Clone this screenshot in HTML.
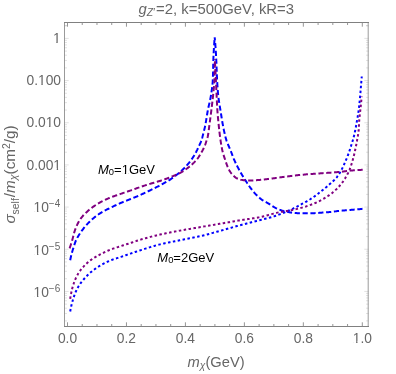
<!DOCTYPE html>
<html><head><meta charset="utf-8"><title>plot</title>
<style>
html,body{margin:0;padding:0;background:#fff;}
body{width:396px;height:374px;overflow:hidden;}
svg{display:block;will-change:transform;font-family:"Liberation Sans",sans-serif;}
</style></head><body>
<svg width="396" height="374" viewBox="0 0 396 374">
<rect width="396" height="374" fill="#ffffff"/>
<path d="M64.5,22.0 V327.0 M368.2,22.0 V327.0" fill="none" stroke="#9a9a9a" stroke-width="1"/>
<path d="M64.0,22.5 H369.0 M64.0,326.5 H369.0" fill="none" stroke="#808080" stroke-width="1"/>
<path d="M64.5,38.40 h4.2 M368.5,38.40 h-4.2 M64.5,25.71 h2.5 M368.5,25.71 h-2.5 M64.5,80.57 h4.2 M368.5,80.57 h-4.2 M64.5,67.88 h2.5 M368.5,67.88 h-2.5 M64.5,60.45 h2.5 M368.5,60.45 h-2.5 M64.5,55.18 h2.5 M368.5,55.18 h-2.5 M64.5,51.09 h2.5 M368.5,51.09 h-2.5 M64.5,47.76 h2.5 M368.5,47.76 h-2.5 M64.5,44.93 h2.5 M368.5,44.93 h-2.5 M64.5,42.49 h2.5 M368.5,42.49 h-2.5 M64.5,40.33 h2.5 M368.5,40.33 h-2.5 M64.5,122.74 h4.2 M368.5,122.74 h-4.2 M64.5,110.05 h2.5 M368.5,110.05 h-2.5 M64.5,102.62 h2.5 M368.5,102.62 h-2.5 M64.5,97.35 h2.5 M368.5,97.35 h-2.5 M64.5,93.26 h2.5 M368.5,93.26 h-2.5 M64.5,89.93 h2.5 M368.5,89.93 h-2.5 M64.5,87.10 h2.5 M368.5,87.10 h-2.5 M64.5,84.66 h2.5 M368.5,84.66 h-2.5 M64.5,82.50 h2.5 M368.5,82.50 h-2.5 M64.5,164.91 h4.2 M368.5,164.91 h-4.2 M64.5,152.22 h2.5 M368.5,152.22 h-2.5 M64.5,144.79 h2.5 M368.5,144.79 h-2.5 M64.5,139.52 h2.5 M368.5,139.52 h-2.5 M64.5,135.43 h2.5 M368.5,135.43 h-2.5 M64.5,132.10 h2.5 M368.5,132.10 h-2.5 M64.5,129.27 h2.5 M368.5,129.27 h-2.5 M64.5,126.83 h2.5 M368.5,126.83 h-2.5 M64.5,124.67 h2.5 M368.5,124.67 h-2.5 M64.5,207.08 h4.2 M368.5,207.08 h-4.2 M64.5,194.39 h2.5 M368.5,194.39 h-2.5 M64.5,186.96 h2.5 M368.5,186.96 h-2.5 M64.5,181.69 h2.5 M368.5,181.69 h-2.5 M64.5,177.60 h2.5 M368.5,177.60 h-2.5 M64.5,174.27 h2.5 M368.5,174.27 h-2.5 M64.5,171.44 h2.5 M368.5,171.44 h-2.5 M64.5,169.00 h2.5 M368.5,169.00 h-2.5 M64.5,166.84 h2.5 M368.5,166.84 h-2.5 M64.5,249.25 h4.2 M368.5,249.25 h-4.2 M64.5,236.56 h2.5 M368.5,236.56 h-2.5 M64.5,229.13 h2.5 M368.5,229.13 h-2.5 M64.5,223.86 h2.5 M368.5,223.86 h-2.5 M64.5,219.77 h2.5 M368.5,219.77 h-2.5 M64.5,216.44 h2.5 M368.5,216.44 h-2.5 M64.5,213.61 h2.5 M368.5,213.61 h-2.5 M64.5,211.17 h2.5 M368.5,211.17 h-2.5 M64.5,209.01 h2.5 M368.5,209.01 h-2.5 M64.5,291.42 h4.2 M368.5,291.42 h-4.2 M64.5,278.73 h2.5 M368.5,278.73 h-2.5 M64.5,271.30 h2.5 M368.5,271.30 h-2.5 M64.5,266.03 h2.5 M368.5,266.03 h-2.5 M64.5,261.94 h2.5 M368.5,261.94 h-2.5 M64.5,258.61 h2.5 M368.5,258.61 h-2.5 M64.5,255.78 h2.5 M368.5,255.78 h-2.5 M64.5,253.34 h2.5 M368.5,253.34 h-2.5 M64.5,251.18 h2.5 M368.5,251.18 h-2.5 M64.5,320.90 h2.5 M368.5,320.90 h-2.5 M64.5,313.47 h2.5 M368.5,313.47 h-2.5 M64.5,308.20 h2.5 M368.5,308.20 h-2.5 M64.5,304.11 h2.5 M368.5,304.11 h-2.5 M64.5,300.78 h2.5 M368.5,300.78 h-2.5 M64.5,297.95 h2.5 M368.5,297.95 h-2.5 M64.5,295.51 h2.5 M368.5,295.51 h-2.5 M64.5,293.35 h2.5 M368.5,293.35 h-2.5 M64.5,25.71 h2.5 M368.5,25.71 h-2.5" stroke="#8a8a8a" stroke-width="0.25" fill="none"/>
<path d="M67.50,326.5 v-4.2 M67.50,22.5 v4.2 M82.24,326.5 v-2.5 M82.24,22.5 v2.5 M96.98,326.5 v-2.5 M96.98,22.5 v2.5 M111.72,326.5 v-2.5 M111.72,22.5 v2.5 M126.46,326.5 v-4.2 M126.46,22.5 v4.2 M141.20,326.5 v-2.5 M141.20,22.5 v2.5 M155.94,326.5 v-2.5 M155.94,22.5 v2.5 M170.68,326.5 v-2.5 M170.68,22.5 v2.5 M185.42,326.5 v-4.2 M185.42,22.5 v4.2 M200.16,326.5 v-2.5 M200.16,22.5 v2.5 M214.90,326.5 v-2.5 M214.90,22.5 v2.5 M229.64,326.5 v-2.5 M229.64,22.5 v2.5 M244.38,326.5 v-4.2 M244.38,22.5 v4.2 M259.12,326.5 v-2.5 M259.12,22.5 v2.5 M273.86,326.5 v-2.5 M273.86,22.5 v2.5 M288.60,326.5 v-2.5 M288.60,22.5 v2.5 M303.34,326.5 v-4.2 M303.34,22.5 v4.2 M318.08,326.5 v-2.5 M318.08,22.5 v2.5 M332.82,326.5 v-2.5 M332.82,22.5 v2.5 M347.56,326.5 v-2.5 M347.56,22.5 v2.5 M362.30,326.5 v-4.2 M362.30,22.5 v4.2" stroke="#8a8a8a" stroke-width="0.9" fill="none"/>
<g fill="none" stroke-width="2.0" stroke-linejoin="round">
<path d="M70.20,260.30 L70.39,259.31 L70.59,258.31 L70.80,257.33 L71.03,256.34 L71.26,255.36 L71.51,254.39 L71.76,253.41 L72.03,252.44 L72.30,251.48 L72.58,250.51 L72.86,249.55 L73.16,248.59 L73.45,247.63 L73.76,246.67 L74.07,245.72 L74.38,244.77 L74.69,243.82 L75.03,242.87 L75.38,241.93 L75.76,240.99 L76.17,240.08 L76.59,239.17 L77.05,238.28 L77.52,237.39 L78.02,236.51 L78.54,235.64 L79.07,234.78 L79.61,233.93 L80.16,233.10 L80.73,232.28 L81.30,231.46 L81.89,230.65 L82.49,229.84 L83.11,229.03 L83.73,228.23 L84.37,227.44 L85.01,226.66 L85.67,225.89 L86.34,225.12 L87.01,224.37 L87.70,223.63 L88.39,222.90 L89.09,222.18 L89.79,221.48 L90.51,220.79 L91.23,220.12 L91.97,219.45 L92.73,218.79 L93.50,218.14 L94.29,217.50 L95.08,216.87 L95.89,216.26 L96.70,215.65 L97.52,215.06 L98.35,214.48 L99.19,213.92 L100.02,213.37 L100.86,212.84 L101.71,212.32 L102.58,211.81 L103.45,211.32 L104.34,210.84 L105.23,210.38 L106.13,209.92 L107.03,209.46 L107.93,209.01 L108.84,208.57 L109.74,208.12 L110.64,207.68 L111.54,207.23 L112.45,206.79 L113.35,206.35 L114.26,205.92 L115.17,205.49 L116.08,205.06 L116.99,204.64 L117.91,204.22 L118.82,203.81 L119.74,203.40 L120.66,203.00 L121.58,202.61 L122.51,202.22 L123.44,201.84 L124.37,201.46 L125.31,201.09 L126.24,200.73 L127.18,200.36 L128.12,199.99 L129.05,199.62 L129.98,199.25 L130.92,198.87 L131.85,198.50 L132.78,198.12 L133.71,197.74 L134.64,197.36 L135.57,196.98 L136.50,196.59 L137.43,196.21 L138.35,195.81 L139.27,195.42 L140.19,195.01 L141.11,194.60 L142.03,194.19 L142.94,193.77 L143.85,193.35 L144.76,192.92 L145.67,192.49 L146.58,192.06 L147.48,191.62 L148.39,191.18 L149.29,190.74 L150.19,190.30 L151.10,189.86 L152.00,189.42 L152.90,188.98 L153.81,188.53 L154.71,188.09 L155.61,187.64 L156.50,187.18 L157.40,186.73 L158.29,186.26 L159.18,185.80 L160.07,185.33 L160.95,184.85 L161.83,184.37 L162.72,183.89 L163.60,183.40 L164.48,182.92 L165.36,182.42 L166.24,181.92 L167.10,181.41 L167.97,180.90 L168.82,180.37 L169.67,179.84 L170.51,179.29 L171.34,178.74 L172.17,178.17 L172.99,177.60 L173.81,177.01 L174.63,176.41 L175.43,175.81 L176.24,175.20 L177.03,174.58 L177.82,173.95 L178.60,173.31 L179.37,172.66 L180.13,172.01 L180.88,171.35 L181.62,170.68 L182.35,169.99 L183.08,169.29 L183.79,168.58 L184.50,167.86 L185.19,167.13 L185.88,166.40 L186.56,165.66 L187.23,164.91 L187.89,164.15 L188.54,163.38 L189.18,162.61 L189.80,161.82 L190.41,161.02 L191.01,160.21 L191.59,159.40 L192.17,158.57 L192.73,157.74 L193.28,156.89 L193.82,156.04 L194.34,155.18 L194.85,154.32 L195.34,153.44 L195.81,152.56 L196.28,151.67 L196.73,150.77 L197.18,149.87 L197.61,148.96 L198.04,148.05 L198.47,147.14 L198.89,146.23 L199.31,145.31 L199.74,144.40 L200.16,143.48 L200.58,142.56 L200.98,141.64 L201.35,140.70 L201.69,139.76 L201.98,138.81 L202.24,137.84 L202.47,136.86 L202.70,135.88 L202.95,134.91 L203.20,133.93 L203.45,132.96 L203.71,131.98 L203.96,131.01 L204.20,130.04 L204.44,129.06 L204.68,128.08 L204.90,127.10 L205.11,126.12 L205.31,125.14 L205.50,124.15 L205.68,123.17 L205.86,122.18 L206.03,121.19 L206.19,120.20 L206.35,119.20 L206.51,118.21 L206.67,117.22 L206.83,116.22 L206.99,115.23 L207.15,114.24 L207.31,113.25 L207.48,112.26 L207.66,111.27 L207.84,110.28 L208.04,109.29 L208.24,108.31 L208.45,107.32 L208.67,106.34 L208.89,105.36 L209.12,104.38 L209.35,103.40 L209.57,102.42 L209.79,101.44 L210.01,100.45 L210.22,99.47 L210.42,98.49 L210.61,97.50 L210.79,96.52 L210.95,95.53 L211.10,94.54 L211.25,93.54 L211.40,92.55 L211.55,91.55 L211.69,90.56 L211.84,89.56 L211.97,88.56 L212.10,87.56 L212.23,86.57 L212.34,85.57 L212.45,84.56 L212.55,83.56 L212.64,82.56 L212.71,81.56 L212.77,80.56 L212.82,79.56 L212.86,78.56 L212.90,77.56 L212.94,76.55 L212.97,75.55 L213.00,74.55 L213.03,73.54 L213.05,72.54 L213.08,71.53 L213.10,70.53 L213.12,69.52 L213.14,68.52 L213.16,67.51 L213.18,66.50 L213.20,65.50 L213.23,64.49 L213.25,63.49 L213.27,62.48 L213.30,61.48 L213.33,60.47 L213.37,59.47 L213.40,58.46 L213.44,57.46 L213.48,56.45 L213.53,55.45 L213.58,54.45 L213.63,53.44 L213.68,52.44 L213.74,51.44 L213.80,50.43 L213.85,49.43 L213.91,48.43 L213.97,47.42 L214.04,46.42 L214.10,45.42 L214.17,44.41 L214.24,43.41 L214.31,42.41 L214.38,41.41 L214.46,40.41 L214.54,39.40 L214.62,38.40 L214.70,37.40" stroke="#0000ff" stroke-dasharray="5.2 2.65"/>
<path d="M214.70,37.40 L214.79,38.40 L214.88,39.40 L214.97,40.41 L215.06,41.41 L215.15,42.41 L215.23,43.41 L215.31,44.41 L215.38,45.42 L215.46,46.42 L215.53,47.42 L215.60,48.43 L215.67,49.43 L215.73,50.43 L215.80,51.44 L215.86,52.44 L215.92,53.45 L215.98,54.45 L216.04,55.45 L216.09,56.46 L216.15,57.46 L216.20,58.47 L216.25,59.47 L216.29,60.48 L216.34,61.48 L216.38,62.49 L216.42,63.49 L216.46,64.50 L216.50,65.50 L216.54,66.51 L216.58,67.51 L216.61,68.52 L216.65,69.52 L216.69,70.53 L216.73,71.53 L216.76,72.54 L216.80,73.54 L216.84,74.55 L216.89,75.55 L216.93,76.56 L216.98,77.56 L217.03,78.57 L217.08,79.57 L217.13,80.57 L217.19,81.58 L217.24,82.58 L217.30,83.59 L217.37,84.59 L217.43,85.60 L217.50,86.60 L217.57,87.60 L217.64,88.61 L217.71,89.61 L217.79,90.61 L217.88,91.62 L217.96,92.62 L218.05,93.62 L218.14,94.62 L218.24,95.62 L218.35,96.62 L218.47,97.61 L218.60,98.61 L218.74,99.61 L218.88,100.60 L219.04,101.60 L219.19,102.59 L219.36,103.58 L219.52,104.58 L219.69,105.57 L219.85,106.56 L220.02,107.56 L220.19,108.55 L220.35,109.54 L220.51,110.54 L220.66,111.53 L220.82,112.52 L220.97,113.52 L221.12,114.51 L221.28,115.51 L221.44,116.50 L221.59,117.49 L221.75,118.49 L221.91,119.48 L222.08,120.47 L222.24,121.46 L222.41,122.46 L222.59,123.45 L222.77,124.43 L222.95,125.42 L223.14,126.41 L223.33,127.40 L223.52,128.38 L223.72,129.37 L223.93,130.36 L224.14,131.34 L224.36,132.32 L224.58,133.30 L224.81,134.28 L225.04,135.26 L225.28,136.24 L225.53,137.21 L225.80,138.18 L226.07,139.15 L226.37,140.11 L226.69,141.06 L227.03,142.00 L227.40,142.94 L227.77,143.87 L228.16,144.80 L228.56,145.73 L228.96,146.65 L229.36,147.58 L229.76,148.50 L230.15,149.43 L230.53,150.36 L230.89,151.30 L231.25,152.24 L231.61,153.18 L231.97,154.12 L232.32,155.07 L232.68,156.01 L233.04,156.95 L233.41,157.88 L233.78,158.82 L234.17,159.74 L234.57,160.66 L234.98,161.57 L235.41,162.49 L235.84,163.39 L236.29,164.30 L236.74,165.20 L237.19,166.09 L237.66,166.99 L238.13,167.88 L238.60,168.77 L239.08,169.65 L239.56,170.53 L240.05,171.41 L240.54,172.29 L241.04,173.16 L241.54,174.04 L242.05,174.90 L242.57,175.77 L243.09,176.63 L243.61,177.49 L244.14,178.35 L244.68,179.20 L245.22,180.05 L245.76,180.89 L246.31,181.74 L246.85,182.58 L247.41,183.43 L247.96,184.27 L248.52,185.11 L249.09,185.95 L249.67,186.78 L250.25,187.60 L250.84,188.41 L251.45,189.21 L252.06,190.00 L252.69,190.77 L253.34,191.54 L253.99,192.30 L254.66,193.06 L255.34,193.81 L256.04,194.56 L256.74,195.29 L257.46,196.01 L258.19,196.71 L258.94,197.39 L259.70,198.04 L260.47,198.67 L261.25,199.26 L262.07,199.82 L262.91,200.35 L263.78,200.87 L264.66,201.36 L265.55,201.86 L266.44,202.35 L267.32,202.84 L268.19,203.35 L269.05,203.89 L269.90,204.43 L270.75,204.99 L271.59,205.54 L272.44,206.09 L273.30,206.62 L274.16,207.14 L275.04,207.62 L275.92,208.07 L276.83,208.49 L277.75,208.89 L278.68,209.28 L279.62,209.66 L280.56,210.01 L281.52,210.35 L282.48,210.66 L283.45,210.95 L284.41,211.20 L285.38,211.44 L286.36,211.66 L287.35,211.87 L288.34,212.07 L289.33,212.25 L290.33,212.42 L291.32,212.56 L292.32,212.68 L293.32,212.79 L294.32,212.89 L295.32,212.99 L296.32,213.09 L297.33,213.17 L298.33,213.23 L299.34,213.28 L300.34,213.30 L301.35,213.30 L302.35,213.30 L303.36,213.30 L304.37,213.30 L305.37,213.30 L306.38,213.30 L307.38,213.30 L308.39,213.30 L309.40,213.30 L310.40,213.30 L311.41,213.30 L312.41,213.27 L313.42,213.23 L314.42,213.18 L315.42,213.12 L316.43,213.04 L317.43,212.96 L318.44,212.88 L319.44,212.81 L320.44,212.73 L321.45,212.66 L322.45,212.59 L323.45,212.52 L324.46,212.45 L325.46,212.38 L326.46,212.30 L327.47,212.22 L328.47,212.14 L329.47,212.05 L330.47,211.96 L331.47,211.86 L332.47,211.75 L333.47,211.63 L334.47,211.50 L335.46,211.37 L336.46,211.23 L337.46,211.10 L338.46,210.97 L339.46,210.86 L340.46,210.75 L341.46,210.66 L342.46,210.56 L343.46,210.47 L344.46,210.39 L345.46,210.30 L346.46,210.22 L347.47,210.14 L348.47,210.06 L349.47,209.98 L350.48,209.90 L351.48,209.82 L352.48,209.75 L353.48,209.66 L354.49,209.58 L355.49,209.50 L356.49,209.41 L357.49,209.32 L358.49,209.23 L359.50,209.13 L360.50,209.04 L361.50,208.95 L362.50,208.85" stroke="#0000ff" stroke-dasharray="5.2 2.65" stroke-dashoffset="2.27"/>
<path d="M70.20,311.50 L70.37,310.51 L70.55,309.51 L70.75,308.53 L70.95,307.54 L71.17,306.56 L71.39,305.58 L71.63,304.61 L71.87,303.63 L72.12,302.66 L72.38,301.70 L72.65,300.74 L72.92,299.77 L73.21,298.81 L73.51,297.85 L73.83,296.89 L74.16,295.93 L74.50,294.99 L74.85,294.04 L75.22,293.11 L75.60,292.18 L75.99,291.26 L76.40,290.36 L76.84,289.46 L77.30,288.56 L77.79,287.68 L78.29,286.80 L78.82,285.93 L79.36,285.09 L79.92,284.25 L80.48,283.44 L81.07,282.64 L81.67,281.84 L82.29,281.05 L82.92,280.27 L83.57,279.49 L84.24,278.73 L84.91,277.97 L85.60,277.22 L86.30,276.49 L87.01,275.76 L87.73,275.05 L88.45,274.35 L89.19,273.67 L89.93,273.01 L90.67,272.35 L91.43,271.72 L92.20,271.09 L92.99,270.47 L93.79,269.86 L94.61,269.27 L95.44,268.69 L96.27,268.12 L97.12,267.56 L97.97,267.01 L98.82,266.47 L99.68,265.95 L100.54,265.44 L101.40,264.94 L102.27,264.44 L103.15,263.96 L104.03,263.48 L104.93,263.01 L105.83,262.55 L106.73,262.11 L107.64,261.68 L108.56,261.26 L109.47,260.85 L110.40,260.46 L111.32,260.09 L112.26,259.74 L113.20,259.40 L114.15,259.08 L115.10,258.76 L116.06,258.46 L117.02,258.15 L117.98,257.85 L118.94,257.54 L119.89,257.24 L120.85,256.92 L121.80,256.59 L122.75,256.27 L123.70,255.94 L124.65,255.62 L125.59,255.29 L126.54,254.96 L127.49,254.64 L128.44,254.31 L129.39,253.98 L130.34,253.66 L131.29,253.34 L132.24,253.01 L133.19,252.69 L134.14,252.36 L135.09,252.03 L136.04,251.71 L136.99,251.39 L137.94,251.07 L138.90,250.76 L139.85,250.45 L140.81,250.14 L141.76,249.83 L142.72,249.53 L143.67,249.22 L144.63,248.91 L145.59,248.60 L146.54,248.29 L147.50,247.99 L148.46,247.69 L149.42,247.39 L150.38,247.09 L151.34,246.79 L152.30,246.50 L153.26,246.22 L154.23,245.93 L155.19,245.66 L156.16,245.39 L157.12,245.12 L158.09,244.86 L159.06,244.61 L160.03,244.37 L161.00,244.13 L161.98,243.90 L162.95,243.67 L163.93,243.45 L164.91,243.24 L165.89,243.03 L166.87,242.82 L167.86,242.62 L168.84,242.42 L169.83,242.22 L170.81,242.03 L171.80,241.83 L172.78,241.64 L173.77,241.45 L174.76,241.26 L175.74,241.06 L176.73,240.87 L177.71,240.68 L178.70,240.48 L179.68,240.29 L180.67,240.09 L181.65,239.89 L182.64,239.69 L183.62,239.50 L184.61,239.30 L185.59,239.11 L186.58,238.92 L187.57,238.73 L188.55,238.54 L189.54,238.35 L190.52,238.16 L191.51,237.97 L192.49,237.78 L193.48,237.58 L194.46,237.38 L195.45,237.18 L196.43,236.98 L197.41,236.77 L198.39,236.56 L199.37,236.35 L200.35,236.13 L201.33,235.90 L202.30,235.67 L203.27,235.43 L204.25,235.19 L205.22,234.94 L206.19,234.69 L207.16,234.44 L208.13,234.18 L209.10,233.92 L210.07,233.65 L211.04,233.39 L212.01,233.12 L212.97,232.85 L213.94,232.58 L214.91,232.30 L215.87,232.03 L216.84,231.76 L217.81,231.49 L218.78,231.22 L219.74,230.95 L220.71,230.69 L221.68,230.42 L222.64,230.15 L223.61,229.88 L224.58,229.61 L225.54,229.34 L226.51,229.06 L227.47,228.79 L228.44,228.51 L229.41,228.24 L230.37,227.96 L231.34,227.69 L232.30,227.41 L233.27,227.14 L234.23,226.87 L235.20,226.59 L236.16,226.32 L237.13,226.05 L238.10,225.78 L239.07,225.52 L240.03,225.25 L241.00,224.99 L241.97,224.73 L242.94,224.47 L243.91,224.21 L244.88,223.95 L245.85,223.69 L246.82,223.44 L247.79,223.18 L248.76,222.93 L249.73,222.67 L250.70,222.42 L251.68,222.16 L252.65,221.91 L253.62,221.66 L254.59,221.41 L255.56,221.16 L256.53,220.91 L257.51,220.66 L258.48,220.41 L259.45,220.17 L260.43,219.92 L261.40,219.68 L262.37,219.44 L263.35,219.20 L264.33,218.97 L265.31,218.74 L266.28,218.51 L267.26,218.27 L268.23,218.03 L269.20,217.78 L270.17,217.51 L271.13,217.23 L272.09,216.94 L273.05,216.64 L274.00,216.33 L274.96,216.01 L275.91,215.69 L276.86,215.36 L277.80,215.02 L278.75,214.68 L279.69,214.33 L280.63,213.98 L281.56,213.62 L282.50,213.25 L283.43,212.88 L284.36,212.50 L285.29,212.11 L286.21,211.71 L287.13,211.31 L288.05,210.91 L288.97,210.50 L289.88,210.08 L290.79,209.67 L291.70,209.24 L292.60,208.81 L293.51,208.37 L294.41,207.92 L295.30,207.47 L296.20,207.01 L297.09,206.55 L297.98,206.09 L298.87,205.62 L299.76,205.15 L300.64,204.68 L301.53,204.20 L302.41,203.73 L303.30,203.25 L304.18,202.77 L305.06,202.29 L305.94,201.80 L306.82,201.30 L307.69,200.80 L308.55,200.29 L309.41,199.77 L310.26,199.25 L311.10,198.71 L311.93,198.16 L312.76,197.59 L313.59,197.02 L314.40,196.44 L315.22,195.85 L316.03,195.25 L316.83,194.65 L317.63,194.04 L318.43,193.43 L319.22,192.81 L320.02,192.19 L320.81,191.57 L321.59,190.95 L322.38,190.33 L323.16,189.70 L323.94,189.07 L324.72,188.43 L325.50,187.79 L326.27,187.15 L327.03,186.50 L327.80,185.84 L328.55,185.19 L329.31,184.52 L330.06,183.86 L330.80,183.18 L331.54,182.51 L332.29,181.83 L333.03,181.15 L333.77,180.46 L334.50,179.76 L335.20,179.04 L335.88,178.31 L336.52,177.55 L337.14,176.77 L337.74,175.97 L338.32,175.14 L338.88,174.30 L339.42,173.45 L339.95,172.60 L340.45,171.73 L340.94,170.86 L341.42,169.98 L341.88,169.09 L342.33,168.19 L342.76,167.28 L343.19,166.37 L343.62,165.46 L344.03,164.54 L344.44,163.63 L344.85,162.71 L345.25,161.79 L345.65,160.87 L346.04,159.94 L346.43,159.02 L346.81,158.09 L347.18,157.15 L347.55,156.22 L347.90,155.28 L348.26,154.34 L348.60,153.40 L348.94,152.45 L349.26,151.51 L349.58,150.56 L349.90,149.60 L350.21,148.65 L350.51,147.69 L350.81,146.73 L351.11,145.77 L351.41,144.81 L351.71,143.85 L352.01,142.90 L352.30,141.94 L352.60,140.98 L352.89,140.02 L353.17,139.05 L353.44,138.09 L353.70,137.12 L353.94,136.14 L354.18,135.17 L354.40,134.19 L354.62,133.21 L354.84,132.23 L355.04,131.25 L355.25,130.26 L355.44,129.28 L355.63,128.30 L355.82,127.31 L356.00,126.32 L356.17,125.33 L356.35,124.34 L356.52,123.35 L356.69,122.37 L356.87,121.38 L357.04,120.39 L357.22,119.40 L357.40,118.41 L357.57,117.42 L357.74,116.43 L357.91,115.44 L358.07,114.45 L358.22,113.46 L358.37,112.47 L358.51,111.48 L358.64,110.48 L358.77,109.49 L358.89,108.49 L359.00,107.49 L359.11,106.50 L359.22,105.50 L359.33,104.50 L359.43,103.50 L359.53,102.50 L359.63,101.50 L359.73,100.50 L359.82,99.50 L359.91,98.50 L360.01,97.50 L360.10,96.51 L360.19,95.51 L360.28,94.51 L360.36,93.51 L360.45,92.51 L360.53,91.51 L360.61,90.51 L360.69,89.50 L360.77,88.50 L360.85,87.50 L360.93,86.50 L361.01,85.50 L361.09,84.50 L361.17,83.50 L361.26,82.50 L361.34,81.50 L361.42,80.50 L361.50,79.50 L361.59,78.50 L361.67,77.50 L361.75,76.50" stroke="#0000ff" stroke-dasharray="2.5 2.45" stroke-dashoffset="0.00"/>
<path d="M69.60,248.30 L69.94,247.35 L70.27,246.40 L70.58,245.45 L70.89,244.49 L71.19,243.53 L71.49,242.57 L71.78,241.61 L72.07,240.65 L72.35,239.68 L72.62,238.71 L72.88,237.73 L73.13,236.76 L73.38,235.78 L73.63,234.80 L73.89,233.82 L74.15,232.85 L74.42,231.89 L74.72,230.93 L75.03,229.98 L75.37,229.05 L75.72,228.11 L76.10,227.17 L76.50,226.23 L76.92,225.30 L77.35,224.38 L77.81,223.46 L78.28,222.56 L78.77,221.68 L79.27,220.81 L79.79,219.97 L80.33,219.16 L80.89,218.36 L81.48,217.58 L82.11,216.80 L82.76,216.04 L83.44,215.28 L84.13,214.54 L84.85,213.82 L85.58,213.10 L86.33,212.40 L87.09,211.70 L87.85,211.03 L88.62,210.36 L89.39,209.71 L90.16,209.07 L90.93,208.45 L91.72,207.84 L92.52,207.23 L93.33,206.64 L94.16,206.06 L95.00,205.49 L95.84,204.93 L96.70,204.39 L97.56,203.86 L98.43,203.34 L99.30,202.83 L100.17,202.34 L101.04,201.86 L101.93,201.39 L102.82,200.94 L103.73,200.49 L104.63,200.06 L105.55,199.64 L106.47,199.22 L107.40,198.82 L108.32,198.42 L109.25,198.03 L110.18,197.65 L111.11,197.27 L112.05,196.91 L112.99,196.56 L113.93,196.21 L114.88,195.87 L115.83,195.54 L116.78,195.21 L117.73,194.89 L118.68,194.56 L119.64,194.24 L120.59,193.91 L121.54,193.58 L122.49,193.25 L123.44,192.92 L124.39,192.60 L125.34,192.28 L126.29,191.95 L127.25,191.63 L128.20,191.30 L129.15,190.98 L130.10,190.65 L131.05,190.32 L132.00,189.98 L132.94,189.64 L133.89,189.30 L134.83,188.95 L135.77,188.61 L136.72,188.26 L137.66,187.92 L138.61,187.58 L139.56,187.25 L140.51,186.93 L141.46,186.61 L142.42,186.29 L143.37,185.97 L144.33,185.66 L145.28,185.35 L146.24,185.04 L147.20,184.74 L148.16,184.44 L149.12,184.14 L150.08,183.84 L151.04,183.54 L152.00,183.26 L152.97,182.98 L153.94,182.70 L154.90,182.42 L155.87,182.14 L156.84,181.86 L157.80,181.58 L158.76,181.29 L159.72,180.99 L160.68,180.68 L161.63,180.36 L162.58,180.04 L163.53,179.71 L164.48,179.37 L165.43,179.03 L166.37,178.69 L167.32,178.34 L168.26,177.98 L169.19,177.62 L170.13,177.25 L171.06,176.88 L172.00,176.50 L172.93,176.12 L173.87,175.74 L174.80,175.35 L175.73,174.95 L176.65,174.54 L177.57,174.12 L178.48,173.69 L179.37,173.25 L180.25,172.79 L181.12,172.31 L181.99,171.81 L182.85,171.29 L183.70,170.76 L184.55,170.20 L185.39,169.64 L186.22,169.05 L187.04,168.46 L187.85,167.85 L188.65,167.24 L189.44,166.61 L190.22,165.98 L190.98,165.34 L191.74,164.69 L192.49,164.02 L193.23,163.33 L193.96,162.63 L194.68,161.90 L195.37,161.17 L196.04,160.42 L196.69,159.66 L197.31,158.88 L197.91,158.08 L198.49,157.26 L199.05,156.42 L199.60,155.57 L200.13,154.71 L200.64,153.84 L201.14,152.98 L201.64,152.10 L202.13,151.22 L202.60,150.33 L203.07,149.44 L203.52,148.53 L203.96,147.62 L204.37,146.71 L204.76,145.78 L205.13,144.86 L205.48,143.92 L205.80,142.97 L206.11,142.01 L206.41,141.04 L206.70,140.08 L207.00,139.11 L207.30,138.15 L207.58,137.19 L207.82,136.21 L208.00,135.23 L208.17,134.25 L208.33,133.25 L208.47,132.26 L208.60,131.26 L208.73,130.26 L208.85,129.26 L208.97,128.26 L209.10,127.26 L209.23,126.26 L209.36,125.26 L209.50,124.27 L209.63,123.27 L209.77,122.27 L209.90,121.28 L210.03,120.28 L210.17,119.28 L210.30,118.29 L210.43,117.29 L210.56,116.29 L210.69,115.30 L210.82,114.30 L210.95,113.30 L211.07,112.31 L211.20,111.31 L211.32,110.31 L211.45,109.31 L211.57,108.31 L211.70,107.32 L211.82,106.32 L211.95,105.32 L212.07,104.32 L212.19,103.33 L212.31,102.33 L212.43,101.33 L212.55,100.33 L212.66,99.33 L212.77,98.33 L212.88,97.33 L212.99,96.33 L213.09,95.33 L213.19,94.33 L213.29,93.33 L213.39,92.33 L213.50,91.33 L213.60,90.33 L213.71,89.33 L213.81,88.33 L213.90,87.33 L213.99,86.32 L214.08,85.32 L214.16,84.32 L214.23,83.32 L214.29,82.31 L214.35,81.31 L214.39,80.31 L214.42,79.30 L214.45,78.30 L214.48,77.30 L214.51,76.29 L214.54,75.29 L214.57,74.29 L214.60,73.28 L214.62,72.28 L214.65,71.27 L214.67,70.27 L214.69,69.26 L214.71,68.26 L214.73,67.25 L214.74,66.25 L214.76,65.24 L214.77,64.23 L214.78,63.23 L214.79,62.22 L214.80,61.21 L214.80,60.21 L214.80,59.20" stroke="#800080" stroke-dasharray="5.2 2.65"/>
<path d="M214.80,59.20 L214.86,60.20 L214.91,61.21 L214.97,62.21 L215.03,63.22 L215.08,64.22 L215.14,65.23 L215.19,66.23 L215.24,67.24 L215.30,68.24 L215.35,69.24 L215.40,70.25 L215.46,71.25 L215.51,72.26 L215.56,73.26 L215.61,74.27 L215.66,75.27 L215.71,76.28 L215.77,77.28 L215.82,78.29 L215.87,79.29 L215.91,80.29 L215.96,81.30 L216.01,82.30 L216.06,83.31 L216.10,84.31 L216.15,85.32 L216.19,86.32 L216.24,87.33 L216.28,88.33 L216.33,89.34 L216.37,90.34 L216.42,91.35 L216.46,92.35 L216.51,93.36 L216.56,94.36 L216.61,95.37 L216.66,96.37 L216.70,97.38 L216.75,98.38 L216.80,99.39 L216.85,100.39 L216.90,101.40 L216.94,102.40 L216.99,103.41 L217.05,104.41 L217.10,105.42 L217.15,106.42 L217.21,107.42 L217.27,108.43 L217.33,109.43 L217.40,110.44 L217.46,111.44 L217.54,112.44 L217.61,113.44 L217.69,114.45 L217.78,115.45 L217.86,116.45 L217.95,117.45 L218.05,118.46 L218.14,119.46 L218.24,120.46 L218.33,121.46 L218.43,122.46 L218.54,123.46 L218.64,124.46 L218.74,125.46 L218.84,126.46 L218.95,127.47 L219.05,128.47 L219.16,129.47 L219.27,130.47 L219.38,131.47 L219.50,132.47 L219.62,133.47 L219.74,134.46 L219.86,135.46 L219.99,136.46 L220.12,137.46 L220.26,138.45 L220.40,139.45 L220.55,140.44 L220.70,141.44 L220.85,142.44 L221.01,143.43 L221.17,144.43 L221.34,145.42 L221.52,146.41 L221.70,147.40 L221.90,148.39 L222.10,149.37 L222.31,150.35 L222.54,151.32 L222.79,152.29 L223.06,153.26 L223.34,154.23 L223.64,155.19 L223.94,156.15 L224.26,157.11 L224.58,158.07 L224.90,159.02 L225.22,159.98 L225.54,160.93 L225.86,161.89 L226.18,162.85 L226.50,163.82 L226.83,164.77 L227.18,165.72 L227.54,166.66 L227.93,167.58 L228.34,168.48 L228.79,169.36 L229.28,170.25 L229.81,171.12 L230.37,171.97 L230.96,172.80 L231.58,173.61 L232.21,174.37 L232.87,175.11 L233.58,175.83 L234.33,176.54 L235.12,177.19 L235.94,177.77 L236.79,178.26 L237.69,178.71 L238.63,179.11 L239.59,179.45 L240.56,179.69 L241.54,179.87 L242.53,180.03 L243.53,180.18 L244.54,180.29 L245.55,180.37 L246.56,180.40 L247.56,180.40 L248.57,180.40 L249.57,180.40 L250.58,180.40 L251.59,180.40 L252.59,180.40 L253.60,180.39 L254.60,180.35 L255.61,180.29 L256.61,180.21 L257.61,180.12 L258.62,180.02 L259.62,179.92 L260.62,179.83 L261.62,179.73 L262.62,179.63 L263.62,179.52 L264.62,179.41 L265.62,179.29 L266.62,179.17 L267.62,179.04 L268.62,178.91 L269.61,178.79 L270.61,178.66 L271.61,178.54 L272.61,178.41 L273.60,178.28 L274.60,178.15 L275.60,178.02 L276.60,177.88 L277.59,177.75 L278.59,177.62 L279.59,177.49 L280.59,177.36 L281.58,177.24 L282.58,177.11 L283.58,176.97 L284.58,176.84 L285.57,176.71 L286.57,176.58 L287.57,176.45 L288.57,176.32 L289.57,176.19 L290.56,176.06 L291.56,175.93 L292.56,175.80 L293.56,175.68 L294.56,175.56 L295.56,175.44 L296.55,175.33 L297.55,175.21 L298.55,175.11 L299.55,175.00 L300.55,174.90 L301.55,174.81 L302.56,174.72 L303.56,174.63 L304.56,174.54 L305.56,174.46 L306.56,174.37 L307.57,174.29 L308.57,174.22 L309.57,174.14 L310.58,174.06 L311.58,173.99 L312.58,173.91 L313.59,173.84 L314.59,173.77 L315.59,173.69 L316.60,173.62 L317.60,173.55 L318.60,173.47 L319.61,173.40 L320.61,173.32 L321.61,173.25 L322.62,173.17 L323.62,173.10 L324.62,173.03 L325.63,172.96 L326.63,172.90 L327.64,172.83 L328.64,172.76 L329.64,172.70 L330.65,172.63 L331.65,172.56 L332.66,172.49 L333.66,172.42 L334.66,172.35 L335.66,172.27 L336.67,172.19 L337.67,172.11 L338.67,172.02 L339.67,171.93 L340.67,171.83 L341.67,171.72 L342.67,171.60 L343.67,171.47 L344.66,171.33 L345.66,171.19 L346.66,171.05 L347.66,170.92 L348.66,170.80 L349.65,170.69 L350.66,170.60 L351.66,170.51 L352.66,170.43 L353.66,170.35 L354.66,170.27 L355.67,170.19 L356.67,170.12 L357.67,170.06 L358.68,169.99 L359.68,169.94 L360.69,169.89 L361.69,169.84 L362.70,169.80" stroke="#800080" stroke-dasharray="5.2 2.65" stroke-dashoffset="5.83"/>
<path d="M70.20,298.90 L70.34,297.90 L70.49,296.90 L70.66,295.91 L70.83,294.92 L71.02,293.93 L71.22,292.95 L71.43,291.97 L71.65,290.99 L71.88,290.02 L72.11,289.05 L72.36,288.08 L72.62,287.11 L72.89,286.14 L73.18,285.17 L73.49,284.21 L73.81,283.25 L74.15,282.30 L74.50,281.36 L74.86,280.43 L75.24,279.51 L75.63,278.60 L76.05,277.68 L76.50,276.78 L76.96,275.87 L77.45,274.98 L77.95,274.09 L78.48,273.23 L79.01,272.38 L79.56,271.54 L80.13,270.74 L80.71,269.95 L81.32,269.17 L81.95,268.40 L82.60,267.63 L83.28,266.88 L83.97,266.14 L84.68,265.40 L85.41,264.69 L86.15,263.98 L86.90,263.29 L87.66,262.62 L88.43,261.96 L89.20,261.32 L89.98,260.70 L90.76,260.10 L91.56,259.52 L92.37,258.95 L93.21,258.40 L94.06,257.86 L94.92,257.34 L95.79,256.82 L96.67,256.32 L97.56,255.83 L98.44,255.34 L99.33,254.87 L100.22,254.40 L101.11,253.94 L102.00,253.48 L102.90,253.03 L103.80,252.58 L104.70,252.15 L105.62,251.72 L106.53,251.30 L107.45,250.89 L108.37,250.49 L109.30,250.10 L110.23,249.73 L111.16,249.36 L112.09,249.01 L113.04,248.67 L113.98,248.35 L114.94,248.03 L115.89,247.71 L116.85,247.40 L117.81,247.10 L118.76,246.79 L119.72,246.48 L120.68,246.17 L121.63,245.86 L122.58,245.55 L123.54,245.24 L124.49,244.93 L125.45,244.63 L126.41,244.32 L127.36,244.01 L128.32,243.71 L129.27,243.40 L130.23,243.09 L131.18,242.77 L132.13,242.45 L133.08,242.13 L134.03,241.80 L134.98,241.47 L135.93,241.13 L136.87,240.81 L137.83,240.49 L138.78,240.18 L139.74,239.88 L140.70,239.59 L141.66,239.31 L142.62,239.03 L143.58,238.75 L144.55,238.48 L145.52,238.21 L146.49,237.94 L147.45,237.68 L148.42,237.42 L149.40,237.16 L150.37,236.90 L151.34,236.65 L152.31,236.41 L153.29,236.16 L154.26,235.92 L155.24,235.68 L156.22,235.45 L157.19,235.22 L158.17,234.99 L159.15,234.76 L160.12,234.54 L161.10,234.32 L162.08,234.11 L163.06,233.89 L164.04,233.69 L165.03,233.48 L166.01,233.28 L166.99,233.08 L167.98,232.88 L168.96,232.69 L169.95,232.49 L170.93,232.30 L171.92,232.11 L172.91,231.93 L173.89,231.74 L174.88,231.56 L175.87,231.37 L176.85,231.19 L177.84,231.01 L178.83,230.83 L179.82,230.64 L180.80,230.46 L181.79,230.28 L182.78,230.10 L183.76,229.93 L184.75,229.75 L185.74,229.58 L186.73,229.41 L187.72,229.24 L188.71,229.07 L189.70,228.90 L190.69,228.73 L191.68,228.56 L192.67,228.39 L193.66,228.23 L194.65,228.06 L195.64,227.89 L196.63,227.73 L197.61,227.56 L198.60,227.39 L199.59,227.22 L200.58,227.05 L201.57,226.88 L202.56,226.72 L203.55,226.55 L204.54,226.38 L205.53,226.21 L206.52,226.04 L207.51,225.87 L208.50,225.71 L209.49,225.54 L210.48,225.37 L211.47,225.20 L212.46,225.04 L213.45,224.87 L214.44,224.70 L215.42,224.53 L216.41,224.36 L217.40,224.19 L218.39,224.03 L219.38,223.86 L220.37,223.69 L221.36,223.52 L222.35,223.35 L223.34,223.18 L224.33,223.00 L225.32,222.83 L226.30,222.66 L227.29,222.49 L228.28,222.31 L229.27,222.14 L230.26,221.97 L231.25,221.79 L232.24,221.62 L233.23,221.45 L234.21,221.28 L235.20,221.11 L236.19,220.94 L237.18,220.77 L238.17,220.60 L239.16,220.44 L240.15,220.27 L241.14,220.11 L242.13,219.95 L243.13,219.80 L244.12,219.65 L245.11,219.51 L246.11,219.36 L247.11,219.22 L248.10,219.08 L249.10,218.94 L250.09,218.80 L251.09,218.65 L252.08,218.51 L253.07,218.36 L254.07,218.21 L255.06,218.05 L256.05,217.89 L257.04,217.73 L258.02,217.55 L259.01,217.37 L259.99,217.18 L260.97,216.99 L261.95,216.77 L262.92,216.53 L263.89,216.28 L264.86,216.01 L265.82,215.73 L266.79,215.45 L267.75,215.17 L268.72,214.90 L269.69,214.63 L270.66,214.38 L271.63,214.12 L272.60,213.87 L273.58,213.61 L274.55,213.35 L275.52,213.10 L276.49,212.85 L277.47,212.61 L278.45,212.39 L279.43,212.18 L280.41,211.98 L281.39,211.80 L282.38,211.64 L283.37,211.49 L284.37,211.34 L285.36,211.20 L286.36,211.06 L287.35,210.92 L288.35,210.77 L289.34,210.61 L290.32,210.43 L291.31,210.24 L292.29,210.04 L293.27,209.83 L294.25,209.61 L295.23,209.38 L296.21,209.14 L297.18,208.90 L298.15,208.65 L299.13,208.39 L300.09,208.14 L301.06,207.87 L302.03,207.61 L303.00,207.33 L303.96,207.05 L304.92,206.76 L305.89,206.47 L306.84,206.16 L307.80,205.85 L308.75,205.53 L309.70,205.20 L310.64,204.86 L311.57,204.51 L312.51,204.15 L313.44,203.77 L314.36,203.38 L315.29,202.98 L316.21,202.57 L317.12,202.15 L318.03,201.72 L318.94,201.29 L319.84,200.84 L320.73,200.39 L321.62,199.92 L322.49,199.43 L323.36,198.92 L324.21,198.39 L325.07,197.86 L325.92,197.33 L326.77,196.79 L327.62,196.25 L328.47,195.69 L329.30,195.13 L330.12,194.55 L330.93,193.96 L331.72,193.36 L332.50,192.74 L333.26,192.10 L334.02,191.44 L334.77,190.77 L335.51,190.09 L336.24,189.39 L336.96,188.68 L337.67,187.95 L338.36,187.22 L339.04,186.48 L339.71,185.73 L340.36,184.97 L340.99,184.20 L341.61,183.42 L342.22,182.62 L342.82,181.81 L343.40,180.98 L343.96,180.14 L344.51,179.30 L345.05,178.45 L345.56,177.59 L346.07,176.73 L346.56,175.86 L347.05,174.98 L347.52,174.08 L347.98,173.19 L348.42,172.28 L348.84,171.37 L349.25,170.45 L349.63,169.53 L349.99,168.60 L350.34,167.66 L350.68,166.72 L351.00,165.76 L351.31,164.81 L351.62,163.85 L351.91,162.88 L352.19,161.92 L352.47,160.95 L352.74,159.99 L353.01,159.02 L353.26,158.05 L353.51,157.08 L353.76,156.11 L354.00,155.13 L354.23,154.15 L354.46,153.17 L354.68,152.19 L354.90,151.21 L355.11,150.24 L355.33,149.25 L355.54,148.27 L355.74,147.29 L355.94,146.31 L356.14,145.32 L356.33,144.34 L356.52,143.35 L356.71,142.37 L356.89,141.38 L357.07,140.39 L357.24,139.40 L357.42,138.41 L357.60,137.42 L357.79,136.44 L357.96,135.44 L358.13,134.45 L358.29,133.46 L358.43,132.47 L358.55,131.47 L358.66,130.48 L358.74,129.48 L358.81,128.48 L358.86,127.48 L358.91,126.48 L358.96,125.47 L359.00,124.47 L359.05,123.47 L359.10,122.46 L359.16,121.46 L359.23,120.46 L359.31,119.46 L359.40,118.46 L359.50,117.46 L359.60,116.47 L359.71,115.47 L359.82,114.47 L359.93,113.47 L360.05,112.47 L360.17,111.48 L360.28,110.48 L360.40,109.48 L360.51,108.48 L360.62,107.49 L360.72,106.49 L360.82,105.49 L360.92,104.49 L361.02,103.49 L361.12,102.49 L361.22,101.50 L361.32,100.50 L361.41,99.50 L361.51,98.50 L361.60,97.50 L361.70,96.50" stroke="#800080" stroke-dasharray="2.5 2.45" stroke-dashoffset="0.00"/>
</g>
<text x="67.5" y="342.7" text-anchor="middle" fill="#666666" font-size="13.8">0.0</text>
<text x="126.46000000000001" y="342.7" text-anchor="middle" fill="#666666" font-size="13.8">0.2</text>
<text x="185.42000000000002" y="342.7" text-anchor="middle" fill="#666666" font-size="13.8">0.4</text>
<text x="244.38000000000002" y="342.7" text-anchor="middle" fill="#666666" font-size="13.8">0.6</text>
<text x="303.34000000000003" y="342.7" text-anchor="middle" fill="#666666" font-size="13.8">0.8</text>
<text x="362.3" y="342.7" text-anchor="middle" fill="#666666" font-size="13.8">1.0</text>
<text x="60.6" y="43.3" text-anchor="end" fill="#666666" font-size="13.8">1</text>
<text x="61.0" y="85.2" text-anchor="end" fill="#666666" font-size="13.8">0.100</text>
<text x="61.0" y="127.4" text-anchor="end" fill="#666666" font-size="13.8">0.010</text>
<text x="61.0" y="169.6" text-anchor="end" fill="#666666" font-size="13.8">0.001</text>
<text x="33.6" y="212.38000000000002" text-anchor="start" fill="#666666" font-size="13.8">10</text>
<text x="48.8" y="207.38000000000002" text-anchor="start" fill="#666666" font-size="10" textLength="11.4" lengthAdjust="spacingAndGlyphs">−4</text>
<text x="33.6" y="254.55000000000004" text-anchor="start" fill="#666666" font-size="13.8">10</text>
<text x="48.8" y="249.55000000000004" text-anchor="start" fill="#666666" font-size="10" textLength="11.4" lengthAdjust="spacingAndGlyphs">−5</text>
<text x="33.6" y="296.72" text-anchor="start" fill="#666666" font-size="13.8">10</text>
<text x="48.8" y="291.72" text-anchor="start" fill="#666666" font-size="10" textLength="11.4" lengthAdjust="spacingAndGlyphs">−6</text>
<text x="138.5" y="13.7" fill="#666666" font-size="15.2" textLength="155.6" lengthAdjust="spacingAndGlyphs"><tspan font-style="italic">g</tspan><tspan font-size="10.6" dy="2.6" font-style="italic">Z</tspan><tspan font-size="10.6">′</tspan><tspan dy="-2.6" dx="1.0">=2, k=500GeV, kR=3</tspan></text>
<text x="187.6" y="366.5" fill="#666666" font-size="14.7" textLength="57" lengthAdjust="spacingAndGlyphs"><tspan font-style="italic">m</tspan><tspan font-size="10.2" dy="2.4" font-style="italic">χ</tspan><tspan dy="-2.4">(GeV)</tspan></text>
<text transform="translate(14.8,223.6) rotate(-90)" x="0" y="0" fill="#666666" font-size="14.7" textLength="98.2" lengthAdjust="spacingAndGlyphs"><tspan font-style="italic">σ</tspan><tspan font-size="10" dy="3.9">self</tspan><tspan dy="-3.9" dx="1">/</tspan><tspan font-style="italic">m</tspan><tspan font-size="10.2" dy="2.4" font-style="italic">χ</tspan><tspan dy="-2.4">(cm</tspan><tspan font-size="10" dy="-5.0">2</tspan><tspan dy="5.0">/g)</tspan></text>
<text x="98" y="173.9" fill="#000" font-size="13"><tspan font-style="italic">M</tspan><tspan font-size="9.4" dy="1.4">0</tspan><tspan dy="-1.4">=1GeV</tspan></text>
<text x="157.3" y="261.9" fill="#000" font-size="13"><tspan font-style="italic">M</tspan><tspan font-size="9.4" dy="1.4">0</tspan><tspan dy="-1.4">=2GeV</tspan></text>
<g fill="#fff"><rect x="353.31" y="341.35" width="2.80" height="1.95"/><rect x="357.47" y="341.35" width="2.65" height="1.95"/><rect x="53.53" y="41.95" width="2.80" height="1.95"/><rect x="57.68" y="41.95" width="2.65" height="1.95"/><rect x="38.58" y="83.85" width="2.80" height="1.95"/><rect x="42.73" y="83.85" width="2.65" height="1.95"/><rect x="46.26" y="126.05" width="2.80" height="1.95"/><rect x="50.41" y="126.05" width="2.65" height="1.95"/><rect x="53.93" y="168.25" width="2.80" height="1.95"/><rect x="58.08" y="168.25" width="2.65" height="1.95"/><rect x="34.21" y="211.03" width="2.80" height="1.95"/><rect x="38.36" y="211.03" width="2.65" height="1.95"/><rect x="34.21" y="253.20" width="2.80" height="1.95"/><rect x="38.36" y="253.20" width="2.65" height="1.95"/><rect x="34.21" y="295.37" width="2.80" height="1.95"/><rect x="38.36" y="295.37" width="2.65" height="1.95"/><rect x="122.22" y="172.63" width="2.63" height="1.84"/><rect x="126.13" y="172.63" width="2.50" height="1.84"/></g>
</svg>
</body></html>
